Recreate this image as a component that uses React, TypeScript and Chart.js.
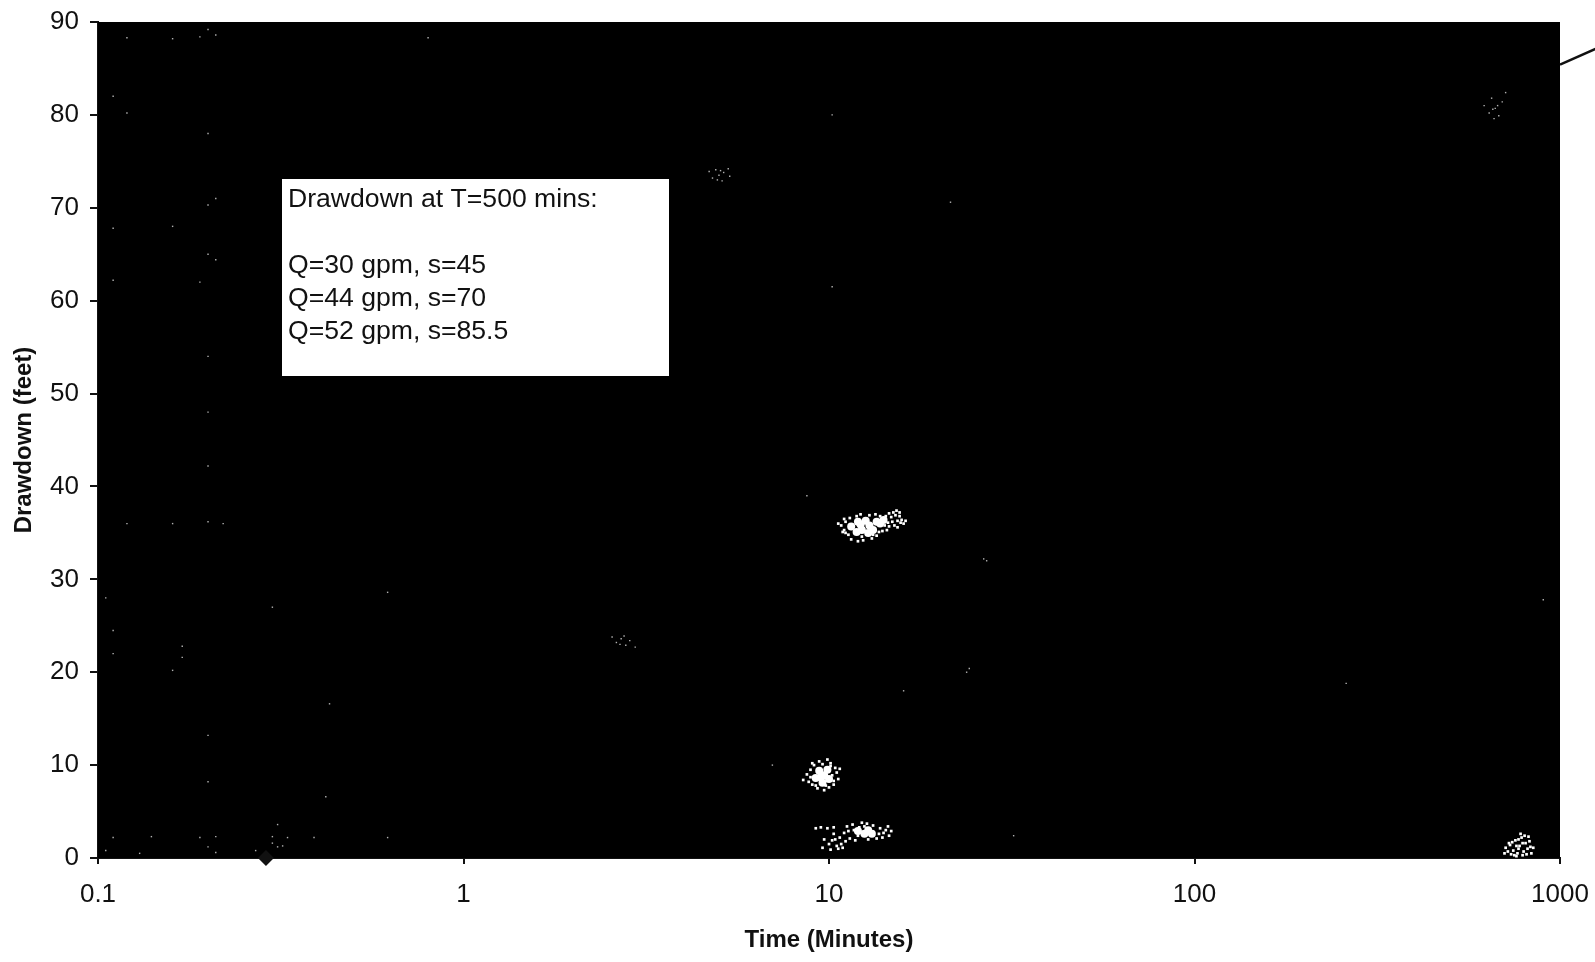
import React, { useEffect, useRef } from "react";
import { Chart, registerables } from "chart.js";

Chart.register(...registerables);

type Pair = [number, number];

const xTicks = [0.1, 1, 10, 100, 1000];
const xAxisTitle = "Time (Minutes)";
const yAxisTitle = "Drawdown (feet)";
const noteLines = ["Drawdown at T=500 mins:", "", "Q=30 gpm, s=45", "Q=44 gpm, s=70", "Q=52 gpm, s=85.5"];

const measuredPoint: Pair[] = [[0.288, 0]];
const trendTail: Pair[] = [[1000, 85.4], [1250, 87.1]];

const denseCores: Pair[] = [
  [11.5, 35.7], [12.0, 36.2], [12.3, 35.3], [12.6, 36.3], [12.9, 35.8], [13.2, 35.3], [13.5, 36.2], [13.8, 36.0],
  [11.9, 35.1], [12.8, 35.0], [12.2, 35.9], [14.1, 36.4],
  [9.2, 8.6], [9.4, 9.4], [9.6, 8.1], [9.7, 8.9], [9.9, 9.5], [10.0, 8.5], [9.5, 8.7],
  [12.0, 2.9], [12.5, 2.6], [12.8, 3.0], [13.1, 2.6],
];

const midSpecks: Pair[] = [
  [10.8, 35.8], [11.0, 35.3], [11.1, 36.2], [11.3, 34.8], [11.4, 36.6], [11.9, 36.8], [12.3, 34.6], [12.9, 36.9],
  [13.2, 34.8], [13.7, 35.1], [14.2, 35.8], [14.6, 35.7], [14.9, 36.2], [15.2, 36.9], [15.4, 36.3], [15.6, 36.8],
  [15.8, 36.4], [16.0, 36.0], [15.0, 37.2], [14.6, 37.1], [15.3, 37.4], [16.2, 36.3], [11.5, 34.3], [12.4, 34.2],
  [14.3, 36.8], [14.5, 36.1], [14.8, 36.7], [15.1, 35.8], [15.4, 35.6], [15.7, 36.1],
  [14.0, 35.2], [14.4, 35.3], [13.8, 36.8], [13.4, 37.0], [12.2, 37.0], [10.6, 36.0], [11.0, 36.5], [10.9, 35.1],
  [11.1, 35.0], [13.1, 34.4], [12.0, 34.1], [13.5, 34.7], [15.6, 37.2],
  [8.7, 9.0], [8.8, 8.2], [8.9, 9.5], [9.0, 7.9], [9.1, 10.0], [9.3, 7.5], [9.6, 10.1], [9.8, 7.8], [10.1, 10.2],
  [10.1, 9.9], [10.3, 8.3], [10.4, 9.7], [10.5, 9.2], [9.7, 7.3], [9.9, 10.6], [8.5, 8.4], [9.1, 8.8], [9.2, 7.8],
  [10.2, 8.9], [10.0, 7.6], [8.9, 8.7], [9.4, 10.4], [10.3, 7.9], [10.7, 9.6], [10.6, 8.5], [9.0, 10.2],
  [11.0, 2.7], [11.2, 3.4], [11.4, 2.1], [11.6, 3.6], [11.8, 1.9], [12.3, 3.8], [12.5, 3.4], [12.8, 2.0], [13.2, 3.5],
  [13.5, 2.1], [13.8, 3.2], [14.1, 2.7], [14.3, 3.0], [14.6, 2.4], [14.8, 2.9], [10.2, 1.9], [10.5, 1.3], [10.7, 2.2],
  [10.0, 1.5], [10.3, 2.6], [10.8, 1.5], [9.6, 1.1], [9.7, 2.0], [11.7, 3.0], [12.0, 2.4], [12.1, 3.3], [13.7, 2.6],
  [14.0, 2.2], [14.5, 3.4], [12.7, 3.7], [11.1, 1.8], [10.6, 1.0], [10.9, 1.1], [10.1, 0.9], [10.4, 2.0], [11.3, 2.9],
  [9.2, 3.2], [9.5, 3.3], [9.9, 3.2], [10.3, 3.3],
  [730, 1.4], [745, 0.8], [755, 1.9], [765, 0.5], [775, 1.3], [785, 2.2], [795, 0.7], [805, 1.6], [815, 1.0], [770, 1.0],
  [750, 0.3], [790, 0.3], [825, 1.8], [720, 0.7], [835, 0.5], [780, 2.6], [800, 2.4], [710, 1.1], [735, 0.4], [760, 1.3],
  [740, 1.7], [790, 1.6], [810, 0.4], [830, 1.2], [725, 1.6], [770, 2.0], [760, 0.2], [820, 2.3], [845, 1.1], [705, 0.5],
];

const faintSpecks: Pair[] = [
  [4.7, 73.9], [4.8, 73.2], [4.9, 74.1], [5.0, 73.5], [5.1, 72.9], [5.15, 73.8], [5.3, 74.2], [5.35, 73.4], [4.95, 73.0], [5.05, 74.0],
  [620, 81.0], [640, 80.2], [650, 81.8], [665, 80.7], [680, 79.9], [695, 81.4], [660, 79.6], [710, 82.4], [655, 80.6], [675, 81.0],
  [2.55, 23.8], [2.62, 23.2], [2.7, 23.6], [2.78, 22.9], [2.85, 23.4], [2.95, 22.7], [2.68, 23.0], [2.75, 23.9],
  [0.2, 89.2], [0.21, 88.6], [0.19, 88.4], [0.16, 88.2], [0.12, 88.3], [0.8, 88.3], [0.11, 82], [0.12, 80.2],
  [0.2, 78], [0.21, 71], [0.2, 70.3], [0.11, 67.8], [0.16, 68], [0.2, 65], [0.21, 64.4], [0.19, 62], [0.11, 62.2],
  [0.2, 54], [0.2, 48], [0.2, 42.2], [0.12, 36], [0.16, 36], [0.2, 36.2], [0.22, 36], [0.105, 28], [0.11, 24.5],
  [0.11, 22], [0.17, 22.8], [0.17, 21.6], [0.16, 20.2], [0.43, 16.6], [0.2, 13.2], [0.2, 8.2], [0.42, 6.6],
  [0.11, 2.2], [0.14, 2.3], [0.19, 2.2], [0.21, 2.3], [0.3, 2.3], [0.33, 2.2], [0.39, 2.2], [0.62, 2.2],
  [0.105, 0.8], [0.13, 0.5], [0.2, 1.2], [0.21, 0.6], [0.31, 3.6], [0.32, 1.3], [0.27, 0.8], [0.3, 1.6], [0.31, 1.2],
  [21.5, 70.6], [10.2, 80], [10.2, 61.5], [8.7, 39], [26.5, 32.2], [27, 32], [24.2, 20.4], [23.8, 20], [16, 18],
  [260, 18.8], [900, 27.8], [32, 2.4], [7, 10], [0.62, 28.6], [0.3, 27],
];

const toXY = (list: Pair[]) => list.map(([x, y]) => ({ x, y }));

const notePlugin = {
  id: "noteBox",
  afterDatasetsDraw(chart: Chart) {
    const c = chart.ctx;
    c.save();
    c.fillStyle = "#ffffff";
    c.fillRect(282, 179, 387, 197);
    c.fillStyle = "#111111";
    c.font = '26.6px "Liberation Sans"';
    c.textBaseline = "alphabetic";
    const baselines = [207, 240, 273, 306, 339];
    noteLines.forEach((line, i) => c.fillText(line, 288, baselines[i]));
    c.restore();
  },
};

const blackAreaPlugin = {
  id: "blackArea",
  beforeDatasetsDraw(chart: Chart) {
    const { left, top, width, height } = chart.chartArea;
    chart.ctx.save();
    chart.ctx.fillStyle = "#000000";
    chart.ctx.fillRect(left, top, width, height);
    chart.ctx.restore();
  },
};

export default function App() {
  const ref = useRef<HTMLCanvasElement>(null);
  useEffect(() => {
    document.body.style.margin = "0";
    document.body.style.background = "#ffffff";
    const chart = new Chart(ref.current!, {
      type: "scatter",
      data: {
        datasets: [
          { data: toXY(denseCores), pointStyle: "circle", pointRadius: 4, backgroundColor: "#ffffff", borderWidth: 0 },
          { data: toXY(midSpecks), pointStyle: "rect", pointRadius: 1.9, backgroundColor: "#ffffff", borderWidth: 0 },
          { data: toXY(faintSpecks), pointStyle: "rect", pointRadius: 1, backgroundColor: "#b0b0b0", borderWidth: 0 },
          {
            data: toXY(measuredPoint), pointStyle: "rectRot", pointRadius: 8, backgroundColor: "#111111",
            borderColor: "#111111", borderWidth: 0, clip: false,
          },
          {
            data: toXY(trendTail), showLine: true, borderColor: "#111111", borderWidth: 2.5,
            pointRadius: 0, clip: false,
          },
        ] as any,
      },
      plugins: [blackAreaPlugin, notePlugin],
      options: {
        responsive: false,
        animation: false,
        devicePixelRatio: 1,
        layout: { padding: { top: 22, right: 35, bottom: 0, left: 0 } },
        plugins: { legend: { display: false }, tooltip: { enabled: false }, title: { display: false } },
        scales: {
          x: {
            type: "logarithmic",
            min: 0.1,
            max: 1000,
            afterBuildTicks: (s: any) => { s.ticks = xTicks.map((value) => ({ value, major: true })); },
            afterFit: (s: any) => { s.height = 104; s.paddingLeft = 0; s.paddingRight = 0; },
            grid: { drawOnChartArea: false, drawTicks: true, tickLength: 6, color: "#111111", lineWidth: 2 },
            border: { display: true, color: "#111111", width: 2 },
            ticks: {
              color: "#111111", maxRotation: 0, autoSkip: false, padding: 15,
              font: { family: "Liberation Sans", size: 26 },
              callback: (v: any) => String(v),
            },
            title: {
              display: true, text: xAxisTitle, color: "#111111", padding: { top: 6, bottom: 7 },
              font: { family: "Liberation Sans", size: 24, weight: "bold" },
            },
          },
          y: {
            min: 0,
            max: 90,
            afterFit: (s: any) => { s.width = 98; s.paddingTop = 0; s.paddingBottom = 0; },
            grid: { drawOnChartArea: false, drawTicks: true, tickLength: 8, color: "#111111", lineWidth: 2 },
            border: { display: true, color: "#111111", width: 2 },
            ticks: {
              stepSize: 10, color: "#111111", padding: 11,
              font: { family: "Liberation Sans", size: 26 },
            },
            title: {
              display: true, text: yAxisTitle, color: "#111111", padding: { top: 10, bottom: 2 },
              font: { family: "Liberation Sans", size: 24, weight: "bold" },
            },
          },
        },
      },
    });
    return () => chart.destroy();
  }, []);
  return <canvas ref={ref} width={1595} height={962} style={{ display: "block" }} />;
}
